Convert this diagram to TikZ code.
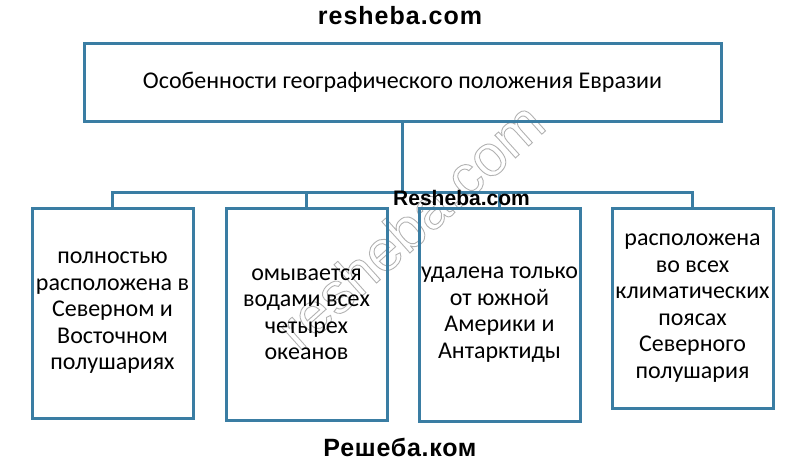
\documentclass[tikz,border=0pt]{standalone}
\usepackage{fontspec}
\setmainfont{Carlito}
\newfontfamily\markfont{Liberation Sans}
\usetikzlibrary{positioning}
\definecolor{boxblue}{HTML}{3A7DA3}
\newcommand{\hollow}[1]{\special{pdf:literal direct 1 Tr 0.9 w}#1\special{pdf:literal direct 0 Tr}}

\begin{document}
\begin{tikzpicture}[
        x=1pt,
        y=-1pt,
        every node/.style={font=\fontsize{24}{26.5}\selectfont, align=center},
        block/.style={draw=boxblue, line width=3pt, inner sep=0pt,
            minimum width=161pt, minimum height=210pt},
        link/.style={draw=boxblue, line width=3pt},
        site/.style={inner sep=0pt, font=\markfont\bfseries\fontsize{25}{27}\selectfont}
    ]
    \useasboundingbox (0,0) rectangle (800,467);

    % faint diagonal watermark behind the chart
    \node[rotate=42, text=gray!60, font=\markfont\fontsize{58}{60}\selectfont] (wm) at (410,225) {\hollow{resheba.com}};

    \node[block, minimum width=637pt, minimum height=78pt] (title) at (402.5,82)
        {Особенности географического положения Евразии};

    \node[block] (b1) at (112.5,313) {полностью\\расположена в\\Северном и\\Восточном\\полушариях};
    \node[block, minimum height=212pt] (b2) at (306.5,314) {омывается\\водами всех\\четырех\\океанов};
    \node[block, minimum height=213pt] (b3) at (499.5,314.5) {удалена только\\от южной\\Америки и\\Антарктиды};
    \node[block, minimum height=200pt] (b4) at (692.5,308) {расположена\\во всех\\климатических\\поясах\\Северного\\полушария};

    \coordinate (bus) at (404,192);
    \draw[link] (title.south) -- (title.south |- bus);
    \draw[link] (b1.north) -- (b1.north |- bus) -- (b4.north |- bus) -- (b4.north);
    \foreach \b in {b2, b3}
        \draw[link] (\b.north) -- (\b.north |- bus);

    % site labels
    \node[site, font=\markfont\bfseries\fontsize{25}{27}\selectfont\addfontfeature{LetterSpace=4}] (top) at (400,16) {resheba.com};
    \node[site, font=\markfont\bfseries\fontsize{21}{23}\selectfont] (mid) at (461.5,198) {Resheba.com};
    \node[site, font=\markfont\bfseries\fontsize{25}{27}\selectfont\addfontfeature{LetterSpace=3}] (bottom) at (400,447.5) {Решеба.ком};
\end{tikzpicture}
\end{document}
